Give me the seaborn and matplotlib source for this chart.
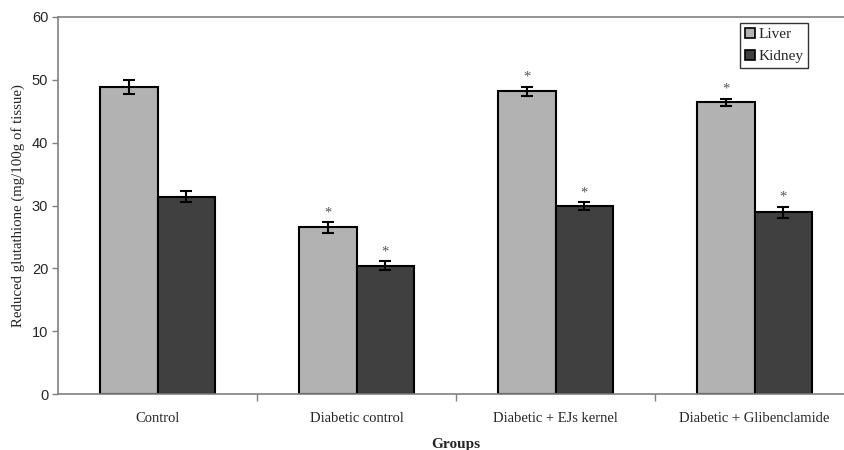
import matplotlib
matplotlib.use("Agg")
import matplotlib.pyplot as plt
import seaborn as sns
import pandas as pd
import numpy as np
from matplotlib.patches import Patch

groups = ["Control", "Diabetic control", "Diabetic + EJs kernel", "Diabetic + Glibenclamide"]
organs = ["Liver", "Kidney"]
liver = [48.9, 26.5, 48.2, 46.4]
kidney = [31.4, 20.4, 29.9, 28.9]
liver_err = [1.1, 0.8, 0.7, 0.6]
kidney_err = [0.9, 0.7, 0.6, 0.9]
liver_sig = [False, True, True, True]
kidney_sig = [False, True, True, True]
colors = {"Liver": "#b2b2b2", "Kidney": "#404040"}

df = pd.DataFrame({
    "group": groups * 2,
    "organ": ["Liver"] * 4 + ["Kidney"] * 4,
    "value": liver + kidney,
})

sns.set_style("white")
serif = ["Liberation Serif", "DejaVu Serif"]
sans = ["Liberation Sans", "DejaVu Sans"]

fig = plt.figure(figsize=(8.45, 4.5), dpi=100)
ax = fig.add_axes([58 / 845, 56 / 450, 796 / 845, 377 / 450])

sns.barplot(data=df, x="group", y="value", hue="organ", order=groups, hue_order=organs,
            palette=colors, edgecolor="black", linewidth=1.5, width=0.58,
            errorbar=None, ax=ax, legend=False, saturation=1)

bar_conts = list(ax.containers)
errs = [liver_err, kidney_err]
vals = [liver, kidney]
sigs = [liver_sig, kidney_sig]
for ci, cont in enumerate(bar_conts):
    xs = [p.get_x() + p.get_width() / 2 for p in cont.patches]
    ax.errorbar(xs, vals[ci], yerr=errs[ci], fmt="none", ecolor="black",
                elinewidth=1.5, capsize=4, capthick=1.5, zorder=5)
    for x, v, e, s in zip(xs, vals[ci], errs[ci], sigs[ci]):
        if s:
            ax.text(x, v + e + 1.5, "*", ha="center", va="center", fontsize=10.5,
                    color="#555555", family=serif)

ax.set_xlim(-0.5, 3.5)
ax.set_ylim(0, 60)
ax.set_yticks(np.arange(0, 61, 10))
ax.set_yticklabels([str(v) for v in range(0, 61, 10)], family=sans, fontsize=10.5)
ax.tick_params(axis="y", direction="out", length=4, width=1, color="#808080", pad=3, left=True)
ax.set_xticks(range(4))
ax.set_xticklabels(groups, family=serif, fontsize=10.5)
ax.tick_params(axis="x", which="major", length=0, pad=13)
ax.set_xticks([0.5, 1.5, 2.5], minor=True)
ax.tick_params(axis="x", which="minor", direction="out", length=5, width=1, color="#808080", bottom=True)

for s in ["left", "top", "bottom", "right"]:
    ax.spines[s].set_color("#808080")
    ax.spines[s].set_linewidth(1.2)

ax.set_ylabel("Reduced glutathione (mg/100g of tissue)", family=serif, fontsize=10.7, labelpad=5)
ax.set_xlabel("Groups", family=serif, fontsize=11, fontweight="bold", labelpad=9)

handles = [Patch(facecolor=colors[o], edgecolor="black", linewidth=1.2) for o in organs]
leg = fig.legend(handles, organs, loc="upper left", bbox_to_anchor=(740 / 845, 1 - 23 / 450),
                 prop={"family": serif, "size": 11}, frameon=True, fancybox=False,
                 edgecolor="black", handlelength=0.7, handleheight=0.7, handletextpad=0.2,
                 borderpad=0.3, labelspacing=0.55, borderaxespad=0)
leg.get_frame().set_linewidth(1.0)

fig.savefig("out.png", dpi=100)
